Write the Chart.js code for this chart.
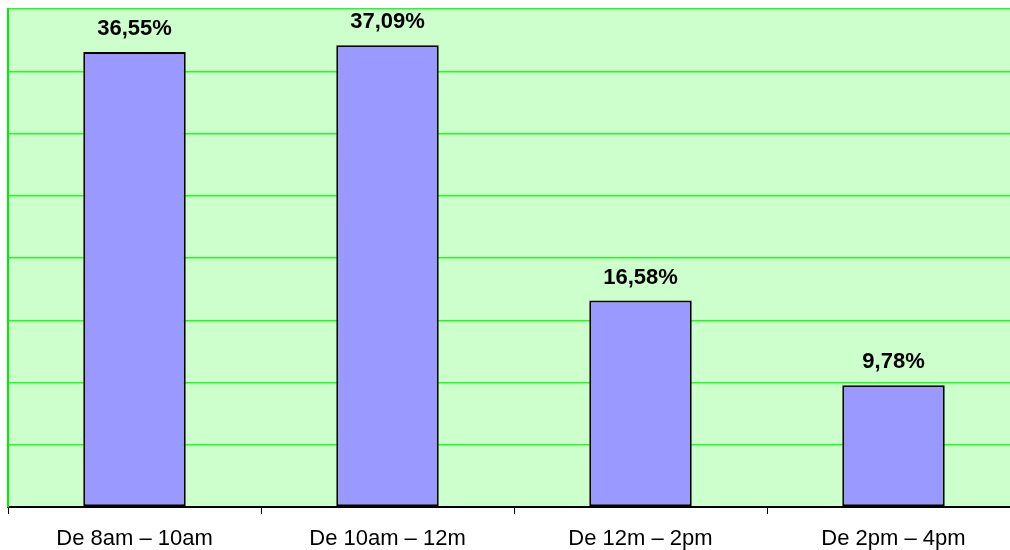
<!DOCTYPE html>
<html>
<head>
  <title>Chart</title>
  <script src="https://cdn.jsdelivr.net/npm/chart.js"></script>
  <style>
    html, body { margin: 0; padding: 0; overflow: hidden; background: #fff; }
  </style>
</head>
<body>
  <canvas id="chart" width="1024" height="550"></canvas>
  <script>
    const categories = ['De 8am – 10am', 'De 10am – 12m', 'De 12m – 2pm', 'De 2pm – 4pm'];
    const values = [36.55, 37.09, 16.58, 9.78];
    const valueLabels = ['36,55%', '37,09%', '16,58%', '9,78%'];

    const plotBg = {
      id: 'plotBg',
      beforeDraw(chart) {
        const { ctx, chartArea: a } = chart;
        ctx.save();
        ctx.fillStyle = '#CCFFCC';
        ctx.fillRect(a.left, a.top, a.right - a.left, a.bottom - a.top);
        ctx.restore();
      }
    };

    const barLabels = {
      id: 'barLabels',
      afterDatasetsDraw(chart) {
        const ctx = chart.ctx;
        ctx.save();
        ctx.font = 'bold 22px "Liberation Sans", Arial, sans-serif';
        ctx.fillStyle = '#000';
        ctx.textAlign = 'center';
        ctx.textBaseline = 'middle';
        chart.getDatasetMeta(0).data.forEach((bar, i) => {
          ctx.fillText(valueLabels[i], bar.x, bar.y - 23);
        });
        ctx.restore();
      }
    };

    const ctx = document.getElementById('chart').getContext('2d');
    new Chart(ctx, {
      type: 'bar',
      data: {
        labels: categories,
        datasets: [{
          data: values,
          backgroundColor: '#9999FF',
          borderColor: '#000',
          borderWidth: 2,
          borderSkipped: false,
          barPercentage: 0.81,
          categoryPercentage: 0.5
        }]
      },
      options: {
        responsive: false,
        animation: false,
        layout: { padding: { left: 8, top: 9, right: 4, bottom: 0 } },
        plugins: { legend: { display: false }, tooltip: { enabled: false } },
        scales: {
          x: {
            grid: { offset: true, drawOnChartArea: false, color: '#000', tickLength: 7 },
            border: { color: '#000', width: 2 },
            ticks: {
              color: '#000',
              padding: 12,
              maxRotation: 0,
              font: { family: '"Liberation Sans", Arial, sans-serif', size: 22 }
            },
            afterFit(scale) { scale.height = 43; }
          },
          y: {
            min: 0,
            max: 40,
            ticks: { display: false, stepSize: 5 },
            grid: { color: '#1EFF1E', lineWidth: 1.5, drawTicks: false },
            border: { color: '#00EE00', width: 2 },
            afterFit(scale) { scale.width = 0; }
          }
        }
      },
      plugins: [plotBg, barLabels]
    });
  </script>
</body>
</html>
